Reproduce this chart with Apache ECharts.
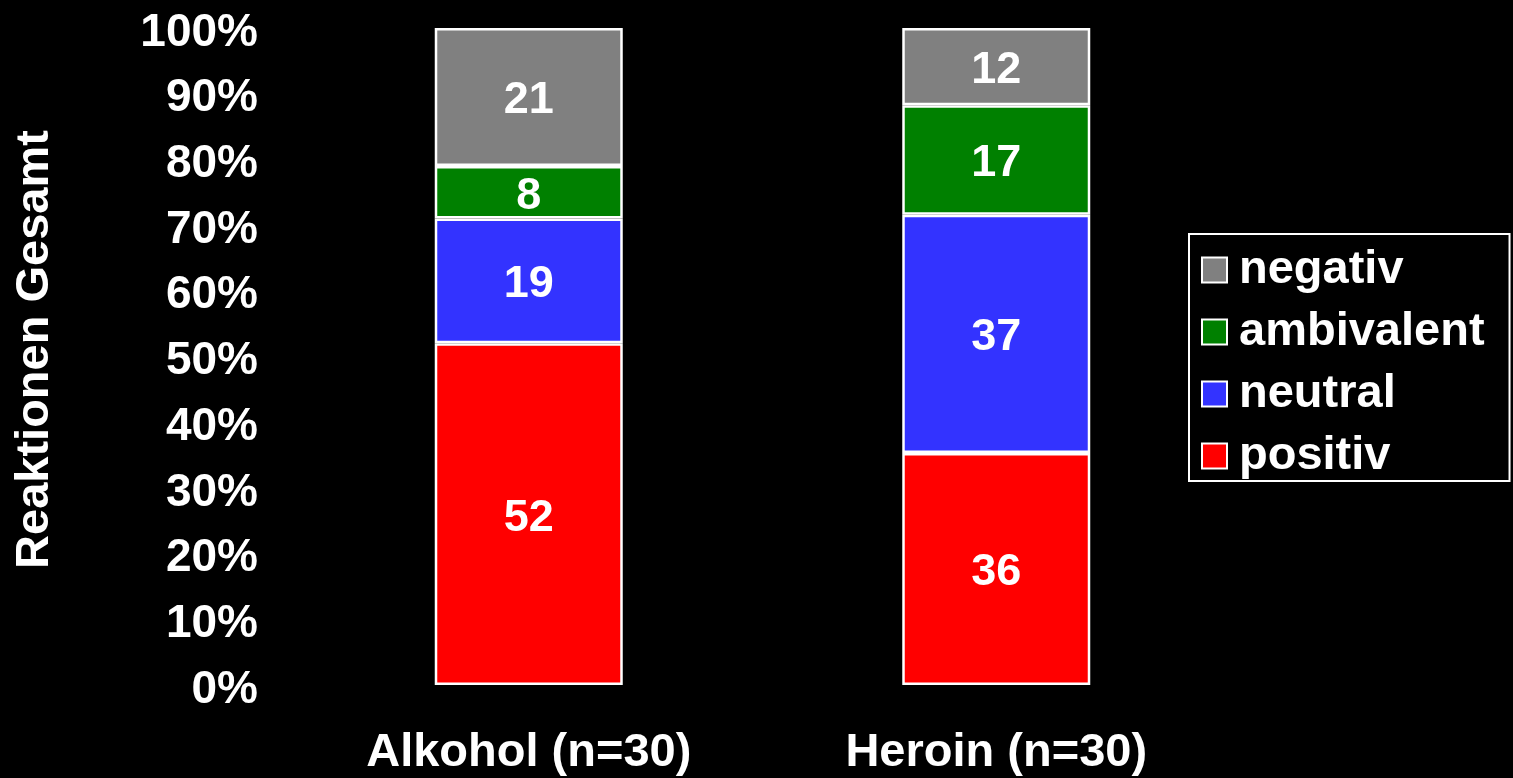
<!DOCTYPE html>
<html>
<head>
<meta charset="utf-8">
<script src="https://cdn.jsdelivr.net/npm/echarts@6/dist/echarts.min.js"></script>
<style>
html,body{margin:0;padding:0;background:#000;}
#chart{width:1513px;height:778px;}
</style>
</head>
<body>
<div id="chart"></div>
<script>
const categories = ['Alkohol (n=30)', 'Heroin (n=30)'];
const seriesNames = ['positiv', 'neutral', 'ambivalent', 'negativ'];
const positiv = [52, 36];
const neutral = [19, 37];
const ambivalent = [8, 17];
const negativ = [21, 12];
const yTicks = [0, 10, 20, 30, 40, 50, 60, 70, 80, 90, 100];
const yTitle = 'Reaktionen Gesamt';
const colors = ['#FF0000', '#3333FF', '#008000', '#808080'];

const raw = [positiv, neutral, ambivalent, negativ];
const totals = categories.map((c, i) => raw.reduce((s, arr) => s + arr[i], 0));
const FONT = 'Liberation Sans, Arial, sans-serif';

const chart = echarts.init(document.getElementById('chart'));
chart.setOption({
  backgroundColor: '#000',
  animation: false,
  textStyle: { fontFamily: FONT },
  grid: { left: 295, top: 28, width: 935, height: 657, containLabel: false },
  legend: {
    orient: 'vertical',
    left: 1189,
    top: 234,
    data: ['negativ', 'ambivalent', 'neutral', 'positiv'],
    backgroundColor: '#000',
    borderColor: '#fff',
    borderWidth: 2,
    borderRadius: 0,
    padding: [11, 25, 0, 12],
    itemWidth: 25,
    itemHeight: 25,
    itemGap: 12,
    icon: 'rect',
    itemStyle: { borderColor: '#fff', borderWidth: 2 },
    textStyle: { color: '#fff', fontSize: 47, fontWeight: 'bold', fontFamily: FONT, lineHeight: 50, padding: [0, 0, 0, 7] }
  },
  xAxis: {
    type: 'category',
    data: categories,
    axisLine: { show: false },
    axisTick: { show: false },
    axisLabel: { color: '#fff', fontSize: 47, fontWeight: 'bold', fontFamily: FONT, margin: 45 }
  },
  yAxis: {
    type: 'value',
    min: yTicks[0],
    max: yTicks[yTicks.length - 1],
    interval: 10,
    splitLine: { show: false },
    axisLine: { show: false },
    axisTick: { show: false },
    axisLabel: {
      color: '#fff', fontSize: 46, fontWeight: 'bold', fontFamily: FONT, margin: 37,
      formatter: (v) => '{t|' + v + '%}',
      rich: { t: { color: '#fff', fontSize: 46, fontWeight: 'bold', fontFamily: FONT, padding: [10, 0, 0, 0] } }
    },
    name: yTitle,
    nameLocation: 'middle',
    nameRotate: 90,
    nameGap: 236,
    nameTextStyle: { color: '#fff', fontSize: 47, fontWeight: 'bold', fontFamily: FONT, padding: [0, 0, 0, 14] }
  },
  series: seriesNames.map((name, k) => ({
    name: name,
    type: 'bar',
    stack: 'total',
    barWidth: 188,
    data: raw[k].map((v, i) => v / totals[i] * 100),
    itemStyle: { color: colors[k], borderColor: '#fff', borderWidth: 2.5 },
    label: {
      show: true,
      position: 'inside',
      color: '#fff',
      fontSize: 45,
      fontWeight: 'bold',
      fontFamily: FONT,
      offset: [0, 4],
      formatter: (p) => String(raw[k][p.dataIndex])
    }
  }))
});
</script>
</body>
</html>
